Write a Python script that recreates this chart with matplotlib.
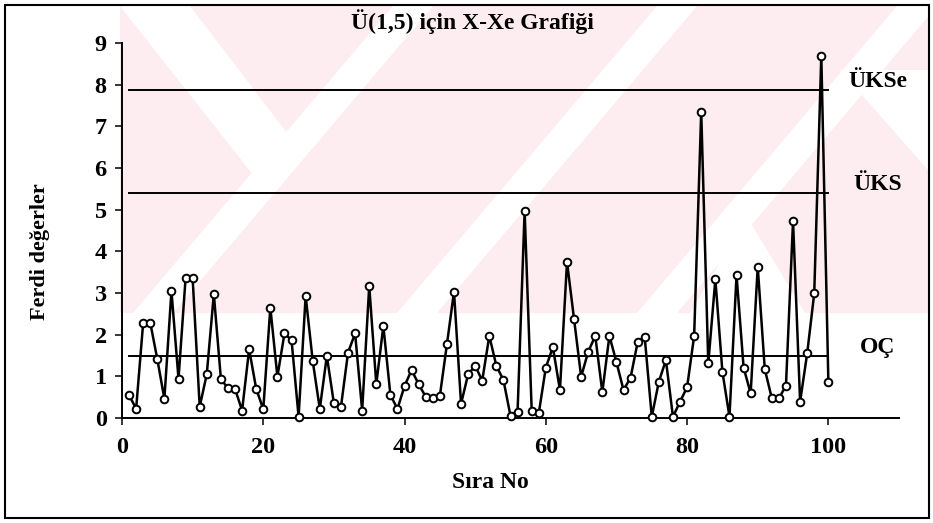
import matplotlib
matplotlib.use("Agg")
import matplotlib.pyplot as plt
from matplotlib.patches import Rectangle, Polygon

# Individual measurements (sample number 1..100)
sira_no = list(range(1, 101))
ferdi = [0.55, 0.22, 2.29, 2.29, 1.41, 0.46, 3.05, 0.94, 3.35, 3.35,
         0.27, 1.05, 2.97, 0.94, 0.71, 0.70, 0.18, 1.65, 0.70, 0.21,
         2.65, 0.99, 2.03, 1.87, 0.03, 2.93, 1.37, 0.22, 1.49, 0.35,
         0.27, 1.57, 2.03, 0.18, 3.17, 0.81, 2.21, 0.55, 0.22, 0.77,
         1.15, 0.81, 0.51, 0.47, 0.53, 1.77, 3.03, 0.34, 1.05, 1.25,
         0.90, 1.97, 1.25, 0.91, 0.05, 0.15, 4.97, 0.18, 0.11, 1.21,
         1.70, 0.67, 3.75, 2.37, 0.99, 1.59, 1.97, 0.62, 1.97, 1.34,
         0.67, 0.97, 1.82, 1.94, 0.03, 0.87, 1.39, 0.03, 0.39, 0.74,
         1.97, 7.35, 1.31, 3.33, 1.11, 0.03, 3.43, 1.21, 0.59, 3.63,
         1.17, 0.47, 0.47, 0.78, 4.73, 0.39, 1.55, 2.99, 8.70, 0.87]

# Control limits
limit_names = ["ÜKSe", "ÜKS", "OÇ"]
limit_values = [7.87, 5.41, 1.49]

x_ticks = [0, 20, 40, 60, 80, 100]
y_ticks = list(range(0, 10))

title = "Ü(1,5) için X-Xe Grafiği"
x_label = "Sıra No"
y_label = "Ferdi değerler"

plt.rcParams["font.family"] = ["Liberation Serif", "DejaVu Serif"]

W, H = 933, 523
fig = plt.figure(figsize=(W / 100, H / 100), dpi=100)
fig.patch.set_facecolor("white")

# Pale pink diagonal background pattern (pixel coordinates, y downwards)
bg = fig.add_axes([0, 0, 1, 1], zorder=0)
bg.set_xlim(0, W)
bg.set_ylim(H, 0)
bg.axis("off")
pink = "#fdedf0"
bg.add_patch(Polygon([(120, 6), (928, 6), (928, 313), (120, 313)],
                     closed=True, facecolor=pink, edgecolor="none"))
for x0 in (133, 397, 637):
    bg.add_patch(Polygon([(x0, 313), (x0 + 40, 313), (x0 + 300, 6),
                          (x0 + 260, 6)], closed=True,
                         facecolor="white", edgecolor="none"))
bg.add_patch(Polygon([(120, 6), (190, 6), (300, 150), (265, 190)],
                     closed=True, facecolor="white", edgecolor="none"))
bg.add_patch(Polygon([(840, 70), (928, 70), (928, 170)], closed=True,
                     facecolor="white", edgecolor="none"))
bg.add_patch(Polygon([(690, 313), (747, 217), (805, 313)], closed=True,
                     facecolor="white", edgecolor="none"))

ax = fig.add_axes([122 / W, 1 - 418 / H, (899 - 122) / W, (418 - 43) / H],
                  zorder=1)
ax.set_facecolor("none")

for val in limit_values:
    ax.plot([1, 100], [val, val], color="black", lw=1.4, zorder=2)

ax.plot(sira_no, ferdi, color="black", lw=1.8, marker="o", ms=5.5,
        mfc="white", mec="black", mew=1.4, zorder=3, clip_on=False)

for name, val in zip(limit_names, limit_values):
    ax.text(107, val + 0.2, name, ha="center", va="center",
            fontsize=17, fontweight="bold", clip_on=False)

ax.set_xlim(0, 110)
ax.set_ylim(0, 9)
ax.set_xticks(x_ticks)
ax.set_yticks(y_ticks)
for s in ["top", "right"]:
    ax.spines[s].set_visible(False)
for s in ["left", "bottom"]:
    ax.spines[s].set_linewidth(1.4)
ax.tick_params(axis="both", direction="out", length=5, width=1.1,
               labelsize=17.5)
ax.tick_params(axis="x", pad=9)
ax.tick_params(axis="y", pad=6)
for lab in ax.get_xticklabels() + ax.get_yticklabels():
    lab.set_fontweight("bold")

fig.text(472 / W, 1 - 22 / H, title, ha="center", va="center",
         fontsize=17, fontweight="bold", zorder=2)
fig.text(490 / W, 1 - 482 / H, x_label, ha="center", va="center",
         fontsize=17, fontweight="bold", zorder=2)
fig.text(40 / W, 1 - 252 / H, y_label, ha="center", va="center",
         fontsize=16, fontweight="bold", rotation=90, zorder=2)

fig.patches.append(Rectangle((5 / W, 5 / H), (929 - 5) / W, (518 - 5) / H,
                             transform=fig.transFigure, fill=False,
                             edgecolor="black", lw=1.5, zorder=3))

fig.savefig("out.png", dpi=100)
